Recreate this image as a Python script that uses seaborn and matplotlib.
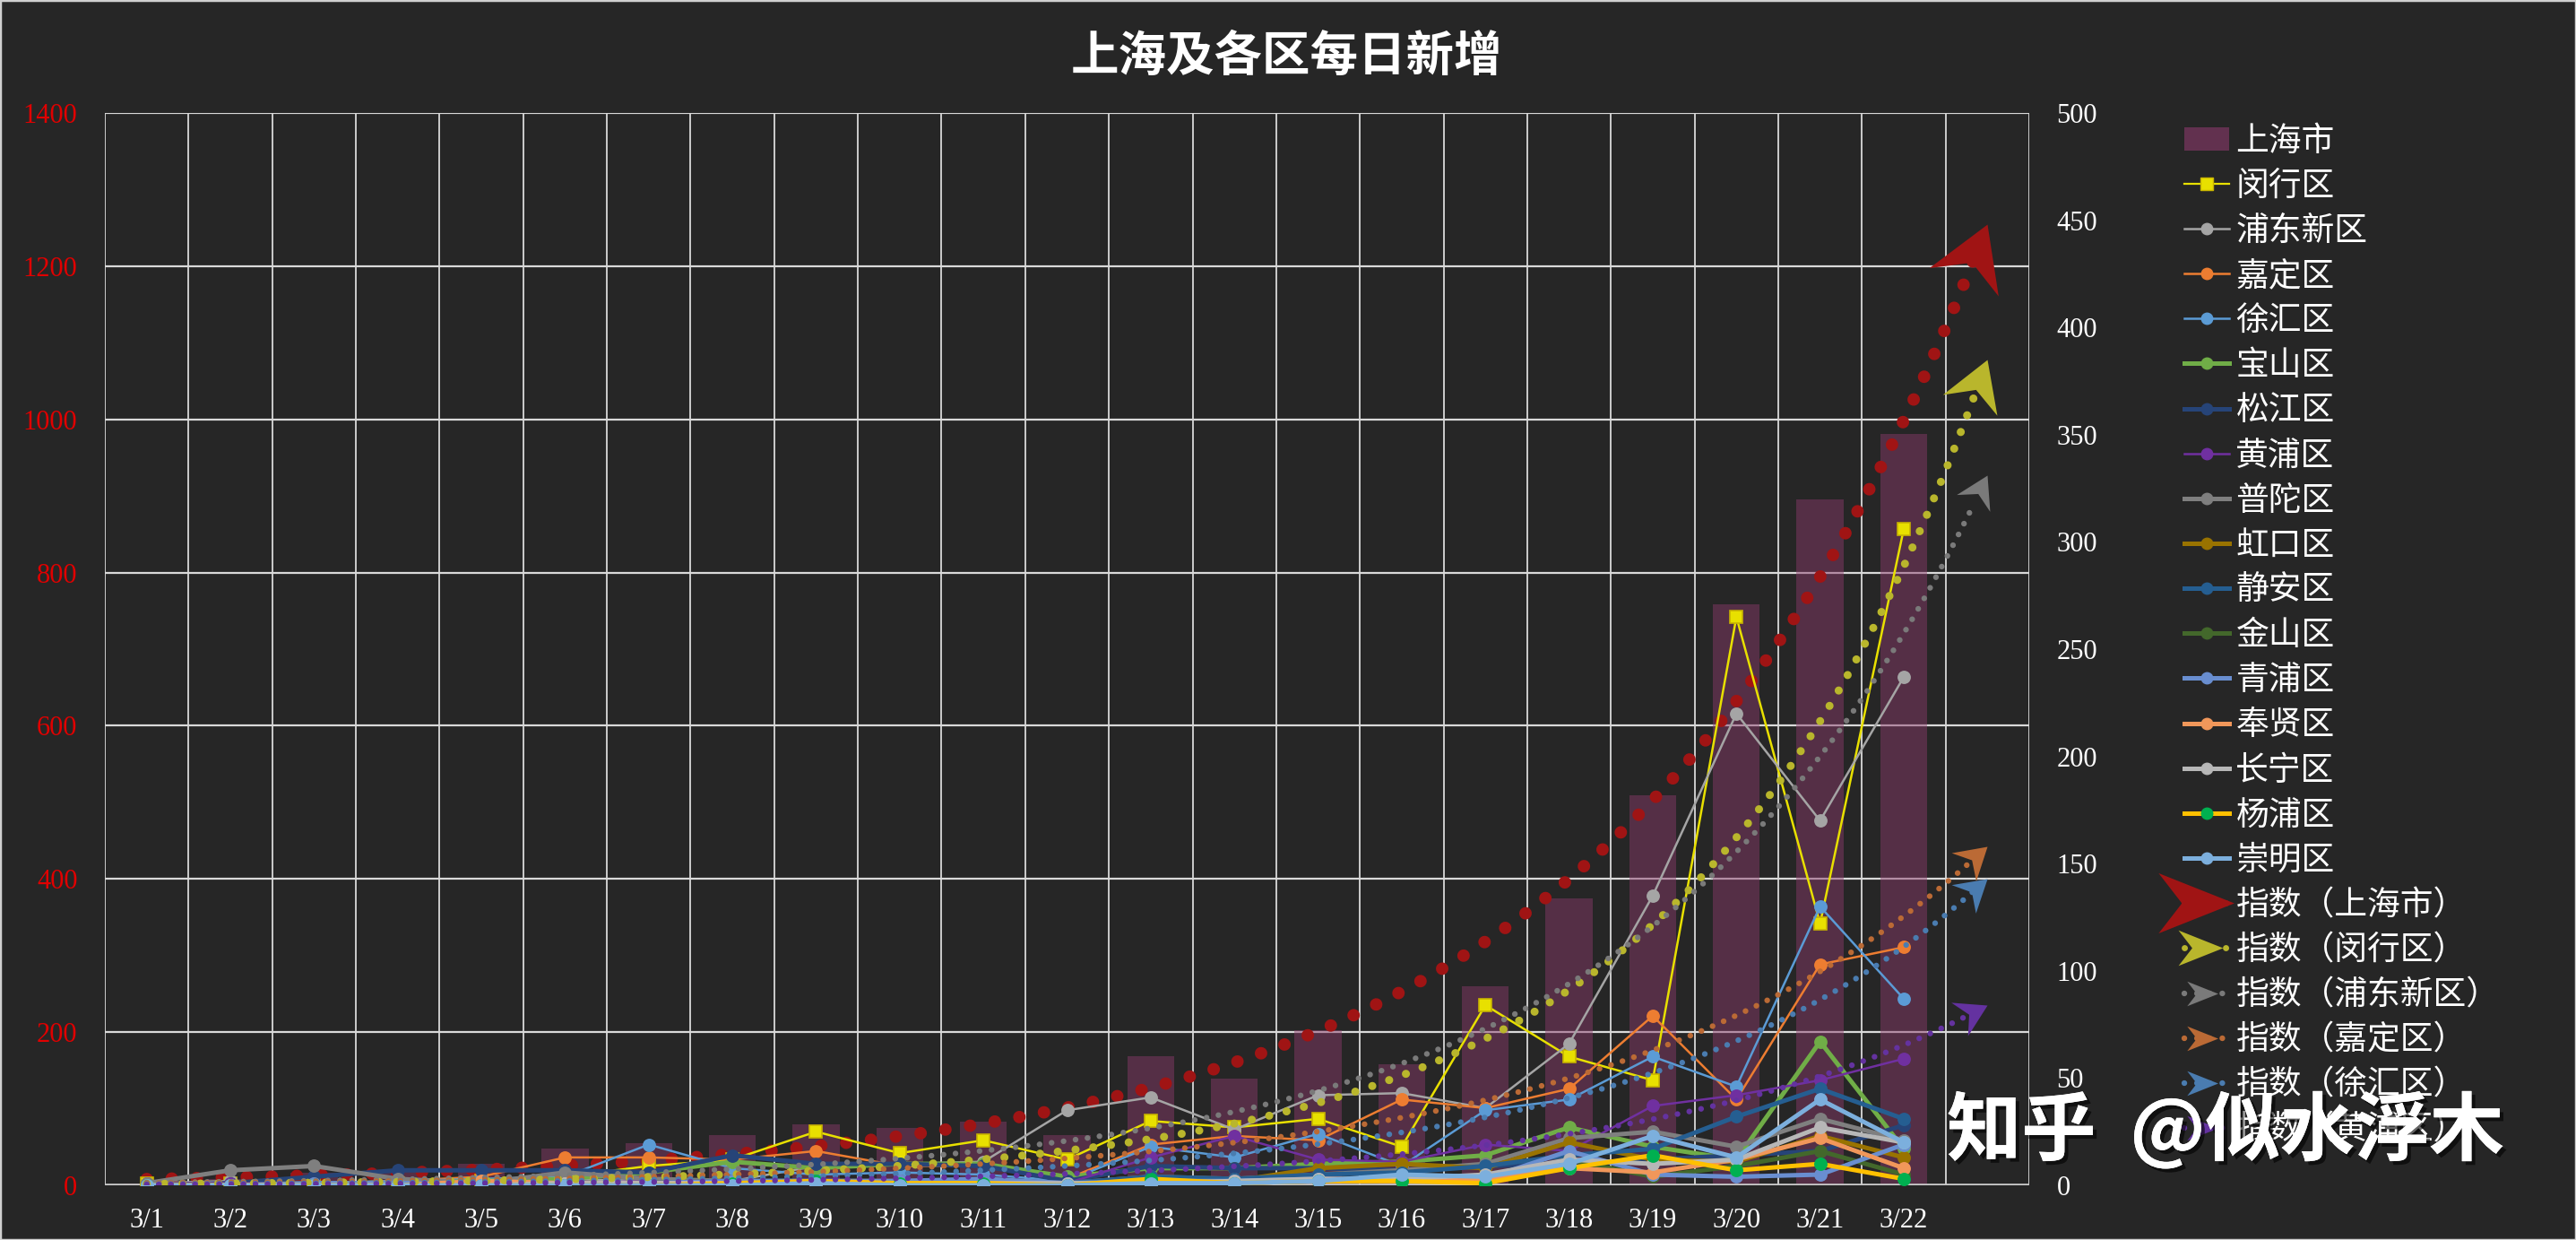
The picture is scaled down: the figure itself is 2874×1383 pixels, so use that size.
import numpy as np
import matplotlib
matplotlib.use('Agg')
import matplotlib.pyplot as plt
import seaborn as sns
from matplotlib.lines import Line2D
from matplotlib.patches import Patch, Rectangle
from matplotlib.path import Path
from matplotlib.markers import MarkerStyle
from matplotlib.transforms import Affine2D
import matplotlib.patheffects as pe

# ---------------- data ----------------
dates = ['3/1', '3/2', '3/3', '3/4', '3/5', '3/6', '3/7', '3/8', '3/9', '3/10', '3/11',
         '3/12', '3/13', '3/14', '3/15', '3/16', '3/17', '3/18', '3/19', '3/20', '3/21', '3/22']
shanghai = [2, 8, 16, 19, 28, 48, 55, 65, 80, 75, 83, 65, 169, 139, 202, 158, 260, 374, 509, 758, 896, 981]

minhang = [1, 1, 1, 1, 2, 4, 9, 12, 25, 15, 21, 12, 30, 27, 31, 18, 84, 60, 49, 265, 122, 306]
pudong = [1, 2, 1, 2, 1, 3, 2, 2, 9, 10, 11, 35, 41, 26, 42, 43, 36, 66, 135, 220, 170, 237]
jiading = [1, 1, 1, 2, 4, 13, 13, 12, 16, 9, 9, 3, 19, 23, 21, 40, 36, 45, 79, 40, 103, 111]
xuhui = [1, 1, 1, 2, 3, 4, 19, 8, 5, 6, 5, 2, 18, 13, 24, 9, 35, 40, 60, 46, 130, 87]
baoshan = [1, 0, 1, 1, 2, 3, 6, 11, 8, 10, 10, 4, 8, 8, 10, 11, 14, 27, 18, 12, 67, 17]
songjiang = [0, 1, 4, 7, 7, 7, 6, 14, 10, 10, 9, 2, 9, 8, 8, 7, 9, 10, 12, 14, 16, 28]
huangpu = [1, 1, 1, 1, 1, 1, 2, 2, 2, 2, 2, 1, 13, 23, 12, 11, 19, 16, 37, 42, 49, 59]
putuo = [1, 7, 9, 3, 1, 6, 3, 2, 2, 2, 2, 1, 4, 3, 5, 7, 10, 22, 25, 18, 31, 21]
hongkou = [0, 0, 0, 0, 1, 1, 1, 2, 1, 1, 1, 0, 2, 2, 8, 10, 8, 20, 12, 11, 23, 13]
jingan = [0, 0, 1, 0, 1, 1, 1, 2, 2, 1, 2, 1, 4, 3, 5, 6, 9, 14, 17, 32, 45, 31]
jinshan = [0, 0, 0, 0, 0, 0, 0, 1, 0, 0, 0, 0, 1, 1, 2, 2, 4, 12, 4, 9, 16, 5]
qingpu = [0, 0, 1, 1, 1, 1, 1, 2, 2, 2, 3, 1, 2, 2, 3, 2, 3, 16, 5, 4, 5, 19]
fengxian = [0, 0, 0, 0, 2, 1, 1, 1, 1, 1, 1, 0, 1, 1, 2, 2, 3, 8, 6, 12, 22, 8]
changning = [0, 0, 0, 0, 0, 1, 1, 1, 1, 1, 1, 1, 1, 2, 3, 3, 5, 12, 10, 12, 27, 20]
yangpu = [0, 0, 0, 0, 0, 0, 0, 1, 2, 1, 1, 0, 3, 1, 2, 2, 1, 8, 14, 7, 10, 3]
chongming = [0, 0, 0, 0, 0, 0, 0, 0, 1, 0, 0, 0, 1, 1, 2, 5, 4, 10, 23, 13, 40, 20]

district_names = ['闵行区', '浦东新区', '嘉定区', '徐汇区', '宝山区', '松江区', '黄浦区', '普陀区',
                  '虹口区', '静安区', '金山区', '青浦区', '奉贤区', '长宁区', '杨浦区', '崇明区']
district_values = [minhang, pudong, jiading, xuhui, baoshan, songjiang, huangpu, putuo,
                   hongkou, jingan, jinshan, qingpu, fengxian, changning, yangpu, chongming]

# exponential trendlines (指数): value read at 3/1 and at the arrow tip one period after 3/22
trend_labels = ['指数（上海市）', '指数（闵行区）', '指数（浦东新区）', '指数（嘉定区）', '指数（徐汇区）', '指数（黄浦区）']
trend_start = [8.2, 0.68, 1.3, 1.0, 0.57, 0.34]
trend_end = [1255, 385, 331, 158, 143, 84]

# ---------------- styles ----------------
line_colors = ['#e8e000', '#a5a5a5', '#ed7d31', '#5b9bd5', '#70ad47', '#264478', '#7030a0', '#7f7f7f',
               '#997300', '#255e91', '#43682b', '#698ed0', '#f1975a', '#b7b7b7', '#ffc000', '#7cafdd']
marker_colors = list(line_colors)
marker_colors[14] = '#00b050'
line_widths = [1.8, 1.8, 1.8, 1.8, 3.6, 3.6, 1.8, 3.6, 3.6, 3.6, 3.6, 3.6, 3.6, 3.6, 3.6, 3.6]
trend_colors = ['#a01414', '#b9b62c', '#7a7a7a', '#bb6a35', '#4a7cb0', '#6432a0']
trend_lw = [10.0, 6.5, 4.6, 4.6, 4.6, 4.6]
trend_gap = [2.0, 2.2, 2.1, 2.1, 2.1, 2.1]
trend_arrow = [100, 78, 50, 50, 50, 50]
legend_arrow_sizes = [78, 46, 32, 32, 32, 32]

BG = '#262626'
GRID = '#d9d9d9'
BAR_COLOR = '#8b3a6b'
CJK = ['Noto Sans CJK SC', 'DejaVu Sans']
SERIF = ['Liberation Serif', 'DejaVu Serif']

plt.rcParams['font.family'] = CJK

W_PX, H_PX = 2874, 1383
fig = plt.figure(figsize=(W_PX / 100, H_PX / 100), dpi=100, facecolor=BG)
L, R, T, B = 117, 2264, 126, 1322
ax = fig.add_axes([L / W_PX, 1 - B / H_PX, (R - L) / W_PX, (B - T) / H_PX])
ax.set_facecolor(BG)
ax2 = ax.twinx()

# bars (primary axis)
sns.barplot(x=dates, y=shanghai, ax=ax, color=BAR_COLOR, alpha=0.47, width=0.56,
            saturation=1, zorder=2)

ax.set_xlim(-0.5, 22.5)
ax.set_ylim(0, 1400)
ax2.set_ylim(0, 500)
ax.set_xlabel('')
ax.set_ylabel('')

x = np.arange(len(dates))

# district lines (secondary axis)
for i, (name, vals) in enumerate(zip(district_names, district_values)):
    marker = 's' if i == 0 else 'o'
    ms = 10 if i == 0 else 9.5
    mec = '#c8b400' if i == 0 else marker_colors[i]
    sns.lineplot(x=x, y=vals, ax=ax2, color=line_colors[i], linewidth=line_widths[i],
                 marker=marker, markersize=ms, markerfacecolor=marker_colors[i],
                 markeredgecolor=mec, markeredgewidth=1.2, legend=False, zorder=3 + i * 0.01)

ax2.set_xlim(-0.5, 22.5)
ax2.set_ylim(0, 500)
ax2.set_ylabel('')

arrow_tip_path = Path([(0, 0), (-0.5, 0.3), (-0.33, 0), (-0.5, -0.3), (0, 0)],
                      [Path.MOVETO, Path.LINETO, Path.LINETO, Path.LINETO, Path.CLOSEPOLY])
legend_arrow_path = Path([(0.28, 0), (-0.5, 0.31), (-0.26, 0), (-0.5, -0.31), (0.28, 0)],
                         [Path.MOVETO, Path.LINETO, Path.LINETO, Path.LINETO, Path.CLOSEPOLY])

trend_handles = []
for k in range(len(trend_labels)):
    a = ax if k == 0 else ax2
    col = trend_colors[k]
    xs = np.linspace(0, 22, 400)
    rate = np.log(trend_end[k] / trend_start[k]) / 22.0
    ys = trend_start[k] * np.exp(rate * xs)
    a.plot(xs[:-3], ys[:-3], color=col, lw=trend_lw[k], linestyle=(0, (0.01, trend_gap[k])),
           dash_capstyle='round', zorder=4 if k == 0 else 6)
    p1 = a.transData.transform((xs[-12], ys[-12]))
    p2 = a.transData.transform((xs[-1], ys[-1]))
    ang = np.degrees(np.arctan2(p2[1] - p1[1], p2[0] - p1[0]))
    mk = MarkerStyle(arrow_tip_path, transform=Affine2D().rotate_deg(ang))
    a.plot([xs[-1]], [ys[-1]], marker=mk, markersize=trend_arrow[k], color=col,
           markeredgewidth=0, linestyle='none', zorder=7, clip_on=False)
    trend_handles.append(Line2D([0], [0], color=col, lw=min(trend_lw[k], 5),
                                linestyle=(0, (0.01, 2.2)), dash_capstyle='round',
                                marker=MarkerStyle(legend_arrow_path),
                                markersize=legend_arrow_sizes[k], markerfacecolor=col,
                                markeredgewidth=0))

# axes styling
for a in (ax, ax2):
    for sp in a.spines.values():
        sp.set_visible(False)
ax.set_axisbelow(True)
ax.set_xticks(x)
ax.set_xticklabels(dates)
ax.set_xticks(np.arange(-0.5, 23, 1), minor=True)
ax.set_yticks(np.arange(0, 1401, 200))
ax2.set_yticks(np.arange(0, 501, 50))
ax.grid(which='minor', axis='x', color=GRID, lw=1.3)
ax.grid(which='major', axis='x', visible=False)
ax.grid(which='major', axis='y', color=GRID, lw=1.6)
ax.axhline(0, color='#c8c8c8', lw=2.6, zorder=2.5)
ax.tick_params(axis='both', which='both', length=0)
ax2.tick_params(axis='both', which='both', length=0)
ax.tick_params(axis='y', pad=22, labelcolor='#e00000', labelsize=22)
ax.tick_params(axis='x', pad=18, labelcolor='white', labelsize=22)
ax2.tick_params(axis='y', pad=22, labelcolor='white', labelsize=22)
for lbl in ax.get_xticklabels() + ax.get_yticklabels() + ax2.get_yticklabels():
    lbl.set_family(SERIF)

# title
fig.text(0.4993, 1 - 63 / H_PX, '上海及各区每日新增', ha='center', va='center',
         fontsize=38.5, fontweight='bold', color='white', family=CJK)

# legend
handles = [Patch(facecolor=BAR_COLOR, alpha=0.6, edgecolor='none')]
for i in range(len(district_names)):
    marker = 's' if i == 0 else 'o'
    handles.append(Line2D([0], [0], color=line_colors[i], lw=line_widths[i] if i else 1.6,
                          marker=marker, markersize=9.5 if i == 0 else 9,
                          markerfacecolor=marker_colors[i],
                          markeredgecolor='#c8b400' if i == 0 else marker_colors[i]))
handles += trend_handles
labels = ['上海市'] + district_names + trend_labels
leg = fig.legend(handles, labels, loc='upper left', bbox_to_anchor=(2437 / W_PX, 1 - 137.5 / H_PX),
                 frameon=False, labelcolor='white', handlelength=1.36,
                 handletextpad=0.2, labelspacing=0.303, borderpad=0, borderaxespad=0,
                 prop={'family': CJK, 'size': 26.5})

# watermark text
fig.text(2172 / W_PX, 1 - 1262 / H_PX, '知乎  @似水浮木', ha='left', va='center',
         fontsize=60, color='white', family=CJK, fontweight='bold',
         path_effects=[pe.withSimplePatchShadow(offset=(3, -3), shadow_rgbFace='black', alpha=0.6),
                       pe.Normal()], zorder=20)

# outer border
fig.patches.append(Rectangle((0, 0), 1, 1, transform=fig.transFigure, fill=False,
                             edgecolor='#d0d0d0', lw=2.5))

fig.savefig('out.png', dpi=100, facecolor=BG)
